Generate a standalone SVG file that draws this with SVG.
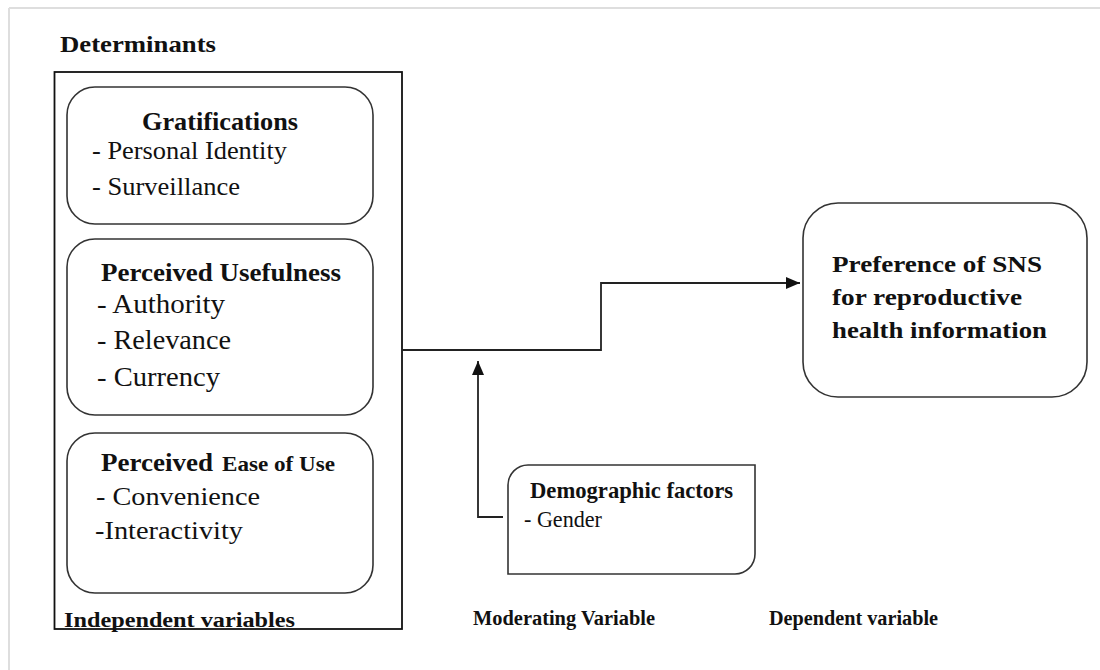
<svg xmlns="http://www.w3.org/2000/svg" width="1100" height="670" viewBox="0 0 1100 670">
  <defs>
    <marker id="arr" viewBox="0 0 14 12" refX="14" refY="6" markerWidth="14" markerHeight="12" markerUnits="userSpaceOnUse" orient="auto">
      <path d="M0,0 L14,6 L0,12 Z" fill="#111"/>
    </marker>
    <style>
      text { font-family: 'Liberation Serif', 'DejaVu Serif', serif; fill: #111; }
      .b { font-weight: bold; }
      .box { fill: #fff; stroke: #333; stroke-width: 1.6; }
      .con { fill: none; stroke: #222; stroke-width: 1.8; }
    </style>
  </defs>
  <rect width="1100" height="670" fill="#fff"/>
  <g id="page-border">
    <line x1="9" y1="8" x2="1100" y2="8" stroke="#dedede" stroke-width="2"/>
    <line x1="9" y1="8" x2="9" y2="670" stroke="#dedede" stroke-width="2"/>
  </g>

  <text class="b" font-family="Liberation Serif, DejaVu Serif, serif" x="60" y="52" font-size="24" textLength="156" lengthAdjust="spacingAndGlyphs">Determinants</text>

  <g id="determinants">
    <rect x="54.5" y="72" width="347.5" height="557" fill="none" stroke="#111" stroke-width="1.8"/>
    <text class="b" font-family="Liberation Serif, DejaVu Serif, serif" x="64" y="627" font-size="20" textLength="231" lengthAdjust="spacingAndGlyphs">Independent variables</text>
  </g>

  <g id="gratifications" font-family="Liberation Serif, DejaVu Serif, serif">
    <rect class="box" x="67" y="87" width="306" height="137" rx="28"/>
    <text class="b" x="142" y="130" font-size="25" textLength="156" lengthAdjust="spacingAndGlyphs">Gratifications</text>
    <text x="92" y="159" font-size="26" textLength="195" lengthAdjust="spacingAndGlyphs">- Personal Identity</text>
    <text x="92" y="195" font-size="26" textLength="148" lengthAdjust="spacingAndGlyphs">- Surveillance</text>
  </g>

  <g id="usefulness" font-family="Liberation Serif, DejaVu Serif, serif">
    <rect class="box" x="67" y="239" width="306" height="176" rx="28"/>
    <text class="b" x="101" y="281" font-size="25" textLength="240" lengthAdjust="spacingAndGlyphs">Perceived Usefulness</text>
    <text x="97" y="313" font-size="27" textLength="128" lengthAdjust="spacingAndGlyphs">- Authority</text>
    <text x="97" y="349" font-size="27" textLength="134" lengthAdjust="spacingAndGlyphs">- Relevance</text>
    <text x="97" y="386" font-size="27" textLength="123" lengthAdjust="spacingAndGlyphs">- Currency</text>
  </g>

  <g id="ease" font-family="Liberation Serif, DejaVu Serif, serif">
    <rect class="box" x="67" y="433" width="306" height="160" rx="28"/>
    <text class="b" x="101" y="471" font-size="25" textLength="112" lengthAdjust="spacingAndGlyphs">Perceived</text>
    <text class="b" x="222" y="471" font-size="21" textLength="113" lengthAdjust="spacingAndGlyphs">Ease of Use</text>
    <text x="96" y="505" font-size="26" textLength="164" lengthAdjust="spacingAndGlyphs">- Convenience</text>
    <text x="95" y="539" font-size="26" textLength="148" lengthAdjust="spacingAndGlyphs">-Interactivity</text>
  </g>

  <g id="preference" font-family="Liberation Serif, DejaVu Serif, serif">
    <rect class="box" x="803" y="203" width="284" height="194" rx="35"/>
    <text class="b" x="832" y="272" font-size="23" textLength="210" lengthAdjust="spacingAndGlyphs">Preference of SNS</text>
    <text class="b" x="832" y="305" font-size="23" textLength="190" lengthAdjust="spacingAndGlyphs">for reproductive</text>
    <text class="b" x="832" y="338" font-size="23" textLength="215" lengthAdjust="spacingAndGlyphs">health information</text>
  </g>

  <g id="demographic" font-family="Liberation Serif, DejaVu Serif, serif">
    <path class="box" d="M528,465 H755 V554 A20,20 0 0 1 735,574 H508 V485 A20,20 0 0 1 528,465 Z"/>
    <text class="b" x="530" y="498" font-size="23" textLength="203" lengthAdjust="spacingAndGlyphs">Demographic factors</text>
    <text x="524" y="527" font-size="23" textLength="78" lengthAdjust="spacingAndGlyphs">- Gender</text>
  </g>

  <text class="b" font-family="Liberation Serif, DejaVu Serif, serif" x="473" y="625" font-size="20" textLength="182" lengthAdjust="spacingAndGlyphs">Moderating Variable</text>
  <text class="b" font-family="Liberation Serif, DejaVu Serif, serif" x="769" y="625" font-size="20" textLength="169" lengthAdjust="spacingAndGlyphs">Dependent variable</text>

  <g id="connectors">
    <polyline class="con" points="402,350 601,350 601,283 800,283" marker-end="url(#arr)"/>
    <polyline class="con" points="503,517 478,517 478,361" marker-end="url(#arr)"/>
  </g>
</svg>
